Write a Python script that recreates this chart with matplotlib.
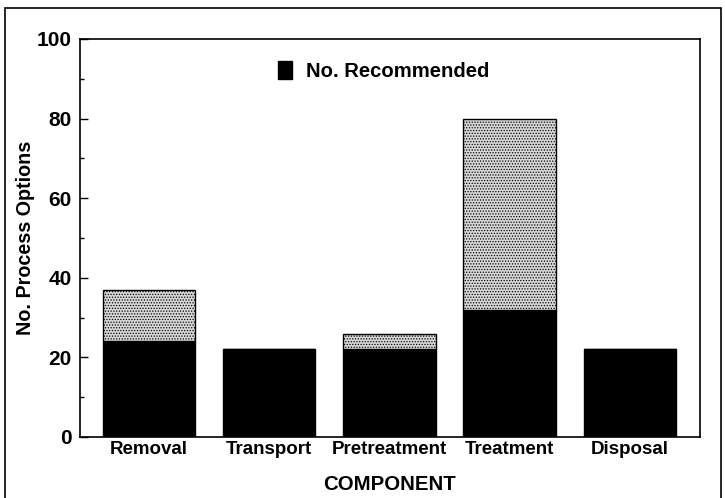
import matplotlib
matplotlib.use("Agg")
import matplotlib.pyplot as plt
from matplotlib.patches import Patch, Rectangle
from matplotlib.ticker import MultipleLocator

categories = ["Removal", "Transport", "Pretreatment", "Treatment", "Disposal"]
total_options = [37, 22, 26, 80, 22]
recommended = [24, 22, 22, 32, 22]

plt.rcParams['font.family'] = ['Liberation Sans', 'DejaVu Sans']
plt.rcParams['font.weight'] = 'bold'
plt.rcParams['axes.labelweight'] = 'bold'
plt.rcParams['hatch.color'] = '#707070'
plt.rcParams['hatch.linewidth'] = 0.6

fig = plt.figure(figsize=(7.25, 4.98), dpi=100)
ax = fig.add_axes([0.110, 0.1225, 0.8555, 0.7992])

x = list(range(len(categories)))
extra = [t - r for t, r in zip(total_options, recommended)]

ax.bar(x, recommended, width=0.77, color='black', edgecolor='black', linewidth=1)
ax.bar(x, extra, bottom=recommended, width=0.77, facecolor='#d8d8d8',
       edgecolor='black', linewidth=1, hatch='......')

ax.set_xlim(-0.575, 4.583)
ax.set_ylim(0, 100)
ax.set_xticks(x)
ax.set_xticklabels(categories, fontsize=13.5, fontweight='bold')
ax.tick_params(axis='x', length=0, pad=3)
ax.yaxis.set_major_locator(MultipleLocator(20))
ax.yaxis.set_minor_locator(MultipleLocator(10))
ax.tick_params(axis='y', which='major', direction='in', length=6, width=1,
               labelsize=15, pad=6)
ax.tick_params(axis='y', which='minor', direction='in', length=3, width=1)
for lab in ax.get_yticklabels():
    lab.set_fontweight('bold')
for sp in ax.spines.values():
    sp.set_linewidth(1.2)

ax.set_xlabel("COMPONENT", fontsize=14.7, fontweight='bold', labelpad=12)
ax.set_ylabel("No. Process Options", fontsize=14.2, fontweight='bold', labelpad=1)

handles = [Patch(facecolor='black', edgecolor='black')]
ax.legend(handles, ["No. Recommended"], loc='upper center', frameon=False,
          bbox_to_anchor=(0.49, 0.99), prop={'size': 14.6, 'weight': 'bold'},
          handlelength=0.7, handleheight=1.0, handletextpad=0.7)

# outer frame of the figure panel
fig.patches.append(Rectangle((0.007, -0.1), 0.988, 1.084, transform=fig.transFigure,
                             fill=False, edgecolor='black', linewidth=1.2))

fig.savefig("out.png", dpi=100)
